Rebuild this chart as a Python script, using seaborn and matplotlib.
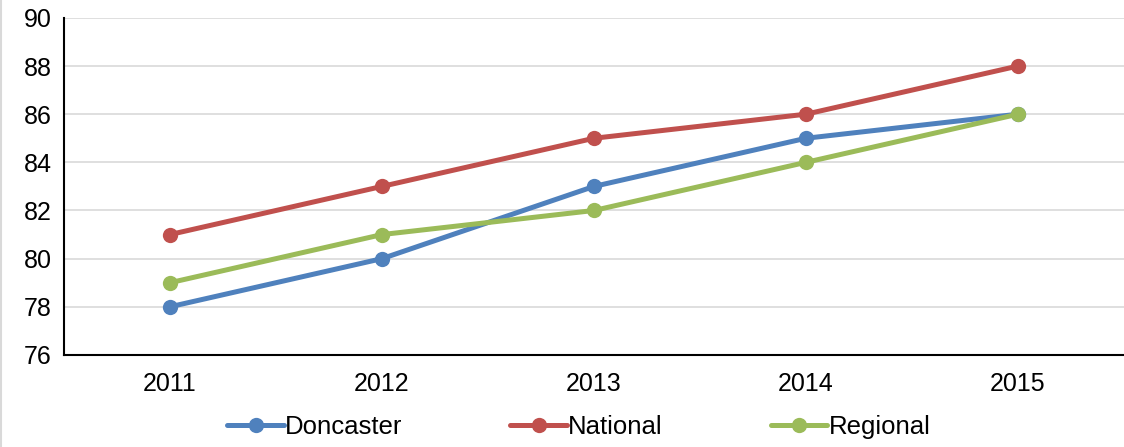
import matplotlib
matplotlib.use("Agg")
import matplotlib.pyplot as plt
from matplotlib.lines import Line2D
import seaborn as sns
import pandas as pd

years = ["2011", "2012", "2013", "2014", "2015"]
doncaster = [78, 80, 83, 85, 86]
national = [81, 83, 85, 86, 88]
regional = [79, 81, 82, 84, 86]
series_names = ["Doncaster", "National", "Regional"]
colors = ["#4F81BD", "#C0504D", "#9BBB59"]

sns.set_theme(style="white")
plt.rcParams["font.family"] = ["Liberation Sans", "DejaVu Sans"]
plt.rcParams["text.color"] = "black"

df = pd.DataFrame({
    "Year": years * 3,
    "Value": doncaster + national + regional,
    "Series": [s for s in series_names for _ in years],
})

fig = plt.figure(figsize=(11.24, 4.47), dpi=100)
ax = fig.add_axes([0.057, 0.206, 0.943, 0.754])

sns.lineplot(data=df, x="Year", y="Value", hue="Series", palette=colors,
             marker="o", markersize=11, markeredgewidth=0, linewidth=3.6,
             sort=False, ax=ax, legend=False)

ax.set_xlim(-0.5, 4.5)
ax.set_ylim(76, 90)
ax.set_yticks(range(76, 91, 2))
ax.yaxis.grid(True, color="#D9D9D9", linewidth=1.2)
ax.set_axisbelow(True)
ax.set_xlabel("")
ax.set_ylabel("")
for side in ["top", "right"]:
    ax.spines[side].set_visible(False)
for side in ["left", "bottom"]:
    ax.spines[side].set_color("black")
    ax.spines[side].set_linewidth(1.5)
ax.tick_params(axis="both", length=0, labelsize=18, colors="black")
ax.tick_params(axis="x", pad=12)
ax.tick_params(axis="y", pad=9)

handles = [Line2D([], [], color=c, linewidth=3.6, marker="o", markersize=11,
                  markeredgewidth=0) for c in colors]
fig.legend(handles, series_names, loc="center", bbox_to_anchor=(0.515, 0.045),
           ncol=3, frameon=False, fontsize=18.5, handlelength=2.2,
           handletextpad=0.05, columnspacing=4.2, labelcolor="black")

fig.add_artist(Line2D([0.001, 0.001], [0, 1], transform=fig.transFigure,
                      color="#D9D9D9", linewidth=1.5))

fig.savefig("out.png", dpi=100)
